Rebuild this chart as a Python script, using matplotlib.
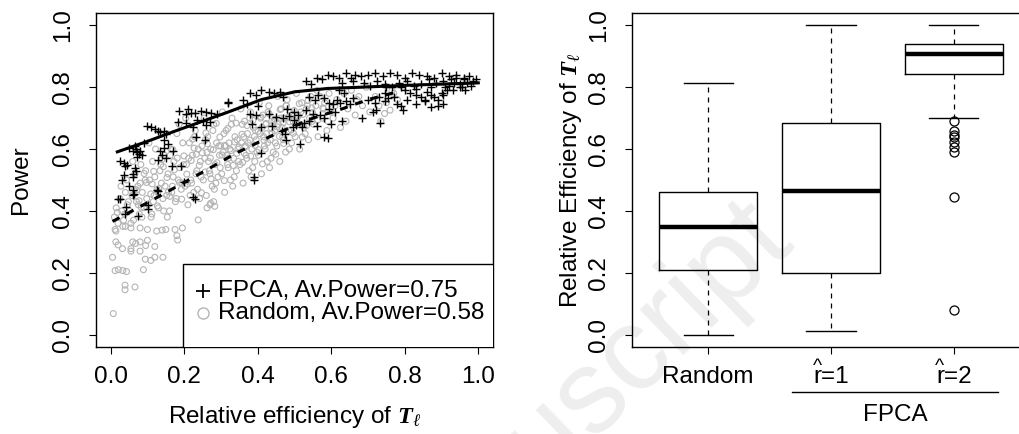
import matplotlib
matplotlib.use('Agg')
import matplotlib.pyplot as plt
from matplotlib.patches import Rectangle

plt.rcParams['font.family'] = ['Liberation Sans', 'DejaVu Sans']
plt.rcParams['mathtext.fontset'] = 'custom'
plt.rcParams['mathtext.rm'] = 'Liberation Serif'
plt.rcParams['mathtext.it'] = 'Liberation Serif:italic'
plt.rcParams['mathtext.bf'] = 'Liberation Serif:bold:italic'

# ---- left panel: power vs relative efficiency
fpca_eff = [
    0.020, 0.024, 0.063, 0.042, 0.040, 0.075, 0.102, 0.102, 0.130, 0.229, 0.060, 0.060, 0.125, 0.224, 0.200,
    0.025, 0.035, 0.045, 0.040, 0.065, 0.068, 0.060, 0.062, 0.035, 0.166, 0.190,
    0.065, 0.068, 0.062, 0.072, 0.080, 0.078, 0.085, 0.072, 0.090, 0.050,
    0.146, 0.155, 0.146, 0.170, 0.135, 0.140, 0.130, 0.150,
    0.098, 0.110, 0.120, 0.128, 0.135, 0.145, 0.150,
    0.183, 0.204, 0.224, 0.260, 0.233, 0.256, 0.235, 0.250, 0.270,
    0.185, 0.210, 0.204, 0.218, 0.228, 0.245, 0.258, 0.272, 0.290, 0.319, 0.030, 0.050,
    0.360, 0.380, 0.395, 0.410, 0.430, 0.445, 0.460, 0.470, 0.370, 0.400, 0.320,
    0.530, 0.545, 0.560, 0.575, 0.590, 0.605, 0.620, 0.630, 0.640, 0.655, 0.665, 0.660,
    0.540, 0.555, 0.565, 0.580, 0.595, 0.605, 0.615, 0.625, 0.640, 0.650, 0.660, 0.635, 0.620,
    0.480, 0.500, 0.510, 0.530, 0.550, 0.570, 0.580, 0.595, 0.610,
    0.380, 0.395, 0.430, 0.450, 0.470, 0.485, 0.500,
    0.385, 0.410, 0.440, 0.465, 0.475, 0.495, 0.505, 0.520, 0.525, 0.540, 0.560, 0.600, 0.630,
    0.580, 0.592, 0.410, 0.390, 0.390, 0.514, 0.478,
    0.680, 0.700, 0.720, 0.740, 0.760, 0.780, 0.800, 0.820, 0.840, 0.860, 0.880, 0.900, 0.920, 0.940, 0.960, 0.975, 0.995,
    0.690, 0.705, 0.725, 0.745, 0.765, 0.785, 0.805, 0.825, 0.845, 0.865, 0.885, 0.905, 0.920, 0.935,
    0.950, 0.960, 0.970, 0.980, 0.985, 0.940, 0.910, 0.870, 0.830, 0.790, 0.750, 0.955, 0.965, 0.925,
    0.800, 0.815, 0.830, 0.845, 0.855, 0.870, 0.880, 0.890, 0.900, 0.915, 0.930, 0.950, 0.860, 0.905,
    0.790, 0.795, 0.830, 0.870, 0.890, 0.855, 0.905,
    0.700, 0.720, 0.745, 0.755, 0.770, 0.780, 0.805, 0.745, 0.730,
    0.714, 0.723, 0.732, 0.683,
]
fpca_power = [
    0.440, 0.438, 0.455, 0.414, 0.390, 0.384, 0.420, 0.405, 0.465, 0.438, 0.468, 0.452, 0.468, 0.446, 0.495,
    0.560, 0.555, 0.550, 0.545, 0.540, 0.530, 0.520, 0.510, 0.515, 0.545, 0.545,
    0.610, 0.600, 0.595, 0.590, 0.595, 0.585, 0.580, 0.575, 0.620, 0.605,
    0.630, 0.615, 0.605, 0.595, 0.595, 0.580, 0.565, 0.570,
    0.675, 0.670, 0.665, 0.660, 0.655, 0.660, 0.650,
    0.688, 0.685, 0.672, 0.677, 0.640, 0.629, 0.694, 0.690, 0.688,
    0.723, 0.731, 0.715, 0.718, 0.716, 0.722, 0.720, 0.716, 0.715, 0.753, 0.500, 0.480,
    0.760, 0.780, 0.775, 0.790, 0.785, 0.780, 0.785, 0.770, 0.745, 0.740, 0.750,
    0.820, 0.810, 0.830, 0.825, 0.840, 0.835, 0.830, 0.815, 0.845, 0.830, 0.840, 0.820,
    0.770, 0.760, 0.775, 0.765, 0.750, 0.745, 0.760, 0.750, 0.755, 0.745, 0.765, 0.780, 0.790,
    0.730, 0.720, 0.710, 0.725, 0.715, 0.710, 0.700, 0.730, 0.720,
    0.715, 0.710, 0.712, 0.705, 0.700, 0.708, 0.695,
    0.680, 0.670, 0.675, 0.660, 0.650, 0.672, 0.678, 0.670, 0.685, 0.690, 0.675, 0.680, 0.690,
    0.640, 0.636, 0.586, 0.510, 0.500, 0.618, 0.629,
    0.835, 0.840, 0.845, 0.835, 0.845, 0.840, 0.830, 0.845, 0.840, 0.835, 0.830, 0.845, 0.835, 0.840, 0.830, 0.835, 0.825,
    0.815, 0.805, 0.820, 0.810, 0.800, 0.815, 0.820, 0.805, 0.810, 0.825, 0.815, 0.820, 0.805, 0.815,
    0.810, 0.825, 0.815, 0.805, 0.820, 0.830, 0.800, 0.800, 0.795, 0.800, 0.800, 0.800, 0.790, 0.825,
    0.790, 0.780, 0.775, 0.770, 0.760, 0.775, 0.770, 0.760, 0.780, 0.790, 0.790, 0.800, 0.785, 0.775,
    0.740, 0.725, 0.745, 0.735, 0.740, 0.755, 0.745,
    0.760, 0.750, 0.755, 0.765, 0.770, 0.745, 0.760, 0.780, 0.770,
    0.720, 0.726, 0.683, 0.700,
]

rand_eff = [
    0.007, 0.039, 0.039, 0.066, 0.012, 0.021, 0.033, 0.043, 0.089, 0.005, 0.032, 0.055, 0.055, 0.080, 0.094,
    0.109, 0.120, 0.142, 0.014, 0.020, 0.060, 0.068, 0.080, 0.100, 0.095, 0.120, 0.014, 0.040, 0.055, 0.080,
    0.100, 0.125, 0.140, 0.150, 0.175, 0.195, 0.180, 0.182, 0.238, 0.270, 0.262, 0.272, 0.283, 0.280,
    0.010, 0.015, 0.020, 0.025, 0.030, 0.035, 0.040, 0.045, 0.012, 0.028, 0.038, 0.048, 0.018, 0.033, 0.043,
    0.052, 0.058, 0.062, 0.066, 0.070, 0.074, 0.078, 0.082, 0.086, 0.090, 0.094, 0.098, 0.055, 0.065, 0.075,
    0.085, 0.095, 0.060, 0.080,
    0.102, 0.106, 0.110, 0.114, 0.118, 0.122, 0.126, 0.130, 0.134, 0.138, 0.142, 0.146, 0.104, 0.112, 0.120,
    0.128, 0.136, 0.144, 0.148, 0.116,
    0.152, 0.156, 0.160, 0.164, 0.168, 0.172, 0.176, 0.180, 0.184, 0.188, 0.192, 0.196, 0.154, 0.162, 0.170,
    0.178, 0.186, 0.194, 0.198, 0.166,
    0.202, 0.206, 0.210, 0.214, 0.218, 0.222, 0.226, 0.230, 0.234, 0.238, 0.242, 0.246, 0.204, 0.212, 0.220,
    0.228, 0.236, 0.244, 0.248, 0.216, 0.232,
    0.252, 0.256, 0.260, 0.264, 0.268, 0.272, 0.276, 0.280, 0.284, 0.288, 0.292, 0.296, 0.254, 0.262, 0.270,
    0.278, 0.286, 0.294, 0.298, 0.266, 0.282, 0.258,
    0.302, 0.306, 0.310, 0.314, 0.318, 0.322, 0.326, 0.330, 0.334, 0.338, 0.342, 0.346, 0.304, 0.312, 0.320,
    0.328, 0.336, 0.344, 0.348, 0.316, 0.332, 0.308, 0.324,
    0.352, 0.356, 0.360, 0.364, 0.368, 0.372, 0.376, 0.380, 0.384, 0.388, 0.392, 0.396, 0.354, 0.362, 0.370,
    0.378, 0.386, 0.394, 0.398, 0.366, 0.382, 0.358, 0.374,
    0.402, 0.406, 0.410, 0.414, 0.418, 0.422, 0.426, 0.430, 0.434, 0.438, 0.442, 0.446, 0.404, 0.412, 0.420,
    0.428, 0.436, 0.444, 0.448, 0.416, 0.432, 0.408, 0.424,
    0.452, 0.456, 0.460, 0.464, 0.468, 0.472, 0.476, 0.480, 0.484, 0.488, 0.492, 0.496, 0.454, 0.462, 0.470,
    0.478, 0.486, 0.494, 0.466,
    0.502, 0.508, 0.514, 0.520, 0.526, 0.532, 0.538, 0.544, 0.548, 0.505, 0.517, 0.529, 0.541, 0.511, 0.535,
    0.552, 0.558, 0.564, 0.570, 0.576, 0.582, 0.588, 0.594, 0.598, 0.561, 0.579, 0.591,
    0.605, 0.615, 0.625, 0.635, 0.645, 0.655, 0.665, 0.675, 0.685, 0.695, 0.610, 0.640, 0.670,
    0.705, 0.720, 0.735, 0.750, 0.765, 0.780, 0.795, 0.770, 0.760, 0.745, 0.730,
    0.071, 0.083, 0.097, 0.109, 0.117, 0.131, 0.139, 0.153, 0.161, 0.173, 0.187, 0.199, 0.207, 0.219, 0.227,
    0.241, 0.249, 0.257, 0.263, 0.271, 0.279, 0.289, 0.297, 0.303, 0.311, 0.319, 0.327, 0.337, 0.341, 0.349,
    0.357, 0.363, 0.371, 0.379, 0.387, 0.393, 0.401, 0.409, 0.417, 0.423, 0.431, 0.439, 0.447, 0.453, 0.461,
    0.469, 0.477, 0.483, 0.491, 0.499, 0.507, 0.513, 0.523, 0.537, 0.547,
    0.077, 0.091, 0.113, 0.127, 0.143, 0.157, 0.169, 0.181, 0.193, 0.209, 0.223, 0.233, 0.247, 0.259, 0.273,
    0.287, 0.299, 0.309, 0.321, 0.333, 0.343, 0.359, 0.367, 0.381, 0.391, 0.403, 0.413, 0.427, 0.437, 0.449,
    0.459, 0.471, 0.487, 0.497, 0.509, 0.521, 0.533, 0.549, 0.563, 0.577,
]
rand_power = [
    0.068, 0.160, 0.145, 0.154, 0.207, 0.210, 0.207, 0.204, 0.210, 0.250, 0.278, 0.278, 0.270, 0.270, 0.244,
    0.240, 0.250, 0.250, 0.300, 0.290, 0.300, 0.295, 0.300, 0.305, 0.288, 0.285, 0.335, 0.350, 0.345, 0.345,
    0.340, 0.335, 0.338, 0.340, 0.340, 0.345, 0.320, 0.306, 0.371, 0.420, 0.410, 0.425, 0.415, 0.430,
    0.380, 0.410, 0.360, 0.440, 0.400, 0.370, 0.460, 0.420, 0.340, 0.480, 0.390, 0.430, 0.395, 0.350, 0.500,
    0.400, 0.450, 0.370, 0.520, 0.430, 0.480, 0.390, 0.550, 0.460, 0.410, 0.500, 0.440, 0.360, 0.470, 0.420,
    0.380, 0.530, 0.560, 0.490,
    0.420, 0.500, 0.380, 0.560, 0.450, 0.600, 0.470, 0.410, 0.530, 0.490, 0.440, 0.580, 0.620, 0.390, 0.510,
    0.460, 0.550, 0.400, 0.480, 0.430,
    0.450, 0.520, 0.400, 0.600, 0.480, 0.560, 0.430, 0.650, 0.500, 0.540, 0.470, 0.620, 0.380, 0.580, 0.510,
    0.440, 0.680, 0.490, 0.550, 0.460,
    0.480, 0.550, 0.420, 0.620, 0.500, 0.580, 0.460, 0.660, 0.530, 0.600, 0.440, 0.510, 0.700, 0.570, 0.490,
    0.640, 0.470, 0.560, 0.610, 0.450, 0.520,
    0.500, 0.570, 0.450, 0.640, 0.530, 0.600, 0.480, 0.680, 0.550, 0.620, 0.510, 0.580, 0.700, 0.590, 0.520,
    0.660, 0.490, 0.610, 0.540, 0.560, 0.470, 0.630,
    0.520, 0.590, 0.460, 0.660, 0.550, 0.620, 0.500, 0.700, 0.570, 0.640, 0.530, 0.600, 0.720, 0.610, 0.540,
    0.680, 0.510, 0.630, 0.560, 0.580, 0.480, 0.650, 0.600,
    0.550, 0.620, 0.490, 0.690, 0.580, 0.650, 0.530, 0.720, 0.600, 0.670, 0.560, 0.630, 0.730, 0.640, 0.570,
    0.700, 0.540, 0.660, 0.590, 0.610, 0.510, 0.680, 0.620,
    0.580, 0.650, 0.520, 0.710, 0.610, 0.680, 0.560, 0.740, 0.630, 0.690, 0.590, 0.660, 0.750, 0.670, 0.600,
    0.720, 0.570, 0.690, 0.620, 0.640, 0.540, 0.700, 0.650,
    0.610, 0.680, 0.560, 0.730, 0.640, 0.700, 0.590, 0.760, 0.660, 0.720, 0.620, 0.690, 0.770, 0.700, 0.630,
    0.740, 0.600, 0.710, 0.670,
    0.640, 0.710, 0.600, 0.750, 0.670, 0.730, 0.630, 0.770, 0.690, 0.780, 0.720, 0.650, 0.700, 0.680, 0.740,
    0.680, 0.740, 0.640, 0.770, 0.700, 0.750, 0.660, 0.780, 0.720, 0.790, 0.730, 0.690,
    0.700, 0.760, 0.670, 0.780, 0.730, 0.790, 0.710, 0.770, 0.740, 0.800, 0.740, 0.690, 0.760,
    0.720, 0.770, 0.690, 0.750, 0.790, 0.760, 0.800, 0.780, 0.726, 0.715, 0.740,
    0.468, 0.412, 0.492, 0.455, 0.528, 0.472, 0.566, 0.508, 0.447, 0.533, 0.492, 0.578, 0.519, 0.563, 0.603,
    0.547, 0.588, 0.526, 0.617, 0.571, 0.598, 0.556, 0.639, 0.581, 0.612, 0.667, 0.595, 0.623, 0.684, 0.607,
    0.648, 0.587, 0.676, 0.629, 0.693, 0.612, 0.657, 0.704, 0.628, 0.683, 0.714, 0.651, 0.697, 0.672, 0.728,
    0.684, 0.741, 0.703, 0.662, 0.725, 0.688, 0.747, 0.712, 0.757, 0.733,
    0.433, 0.521, 0.487, 0.416, 0.543, 0.462, 0.598, 0.571, 0.438, 0.487, 0.632, 0.583, 0.459, 0.652, 0.504,
    0.683, 0.611, 0.498, 0.571, 0.547, 0.586, 0.557, 0.608, 0.577, 0.641, 0.598, 0.552, 0.621, 0.667, 0.583,
    0.641, 0.618, 0.688, 0.651, 0.704, 0.639, 0.676, 0.718, 0.694, 0.733,
]

# smoothed trends
fpca_fit_x = [0.018, 0.10, 0.17, 0.25, 0.32, 0.41, 0.50, 0.59, 0.68, 0.80, 0.90, 1.00]
fpca_fit_y = [0.591, 0.625, 0.656, 0.690, 0.720, 0.760, 0.785, 0.796, 0.800, 0.806, 0.810, 0.814]
rand_fit_x = [0.005, 0.13, 0.26, 0.34, 0.45, 0.55, 0.62, 0.70, 0.78]
rand_fit_y = [0.366, 0.446, 0.532, 0.586, 0.650, 0.700, 0.726, 0.760, 0.785]

legend_labels = ['FPCA, Av.Power=0.75', 'Random, Av.Power=0.58']

# ---- right panel: box plot summaries
box_labels = ['Random', 'r=1', 'r=2']
whisker_low = [0.000, 0.013, 0.702]
box_q1 = [0.210, 0.200, 0.844]
box_median = [0.347, 0.463, 0.909]
box_q3 = [0.460, 0.683, 0.940]
whisker_high = [0.815, 1.000, 1.000]
r2_outliers = [0.692, 0.660, 0.645, 0.638, 0.622, 0.606, 0.590, 0.444, 0.081]

gray = '#b4b4b4'
fs = 17.5
yticks = [0, 0.2, 0.4, 0.6, 0.8, 1.0]
ytick_labels = ['0.0', '0.2', '0.4', '0.6', '0.8', '1.0']

fig = plt.figure(figsize=(10.2, 4.34), dpi=100)
fig.text(565 / 1020, 1 - 418 / 434, 'Manuscript', rotation=44, fontsize=85,
         color='#eeeeee', ha='center', va='center', zorder=-1)

ax1 = fig.add_axes([96 / 1020, 1 - 347 / 434, 397 / 1020, 334 / 434])
ax1.set_facecolor('none')
ax1.scatter(rand_eff, rand_power, s=18, facecolors='none', edgecolors=gray, linewidths=0.8, zorder=2)
ax1.scatter(fpca_eff, fpca_power, s=26, marker='+', c='black', linewidths=1.0, zorder=3)
ax1.plot(fpca_fit_x, fpca_fit_y, color='black', lw=2.2, zorder=4)
ax1.plot(rand_fit_x, rand_fit_y, color='black', lw=2.2, linestyle=(0, (2.6, 2.6)), zorder=4)
ax1.set_xlim(-0.04, 1.04)
ax1.set_ylim(-0.04, 1.04)
ax1.set_xticks(yticks)
ax1.set_xticklabels(ytick_labels)
ax1.set_yticks(yticks)
ax1.set_yticklabels(ytick_labels, rotation=90, va='center')
ax1.set_xlabel(r'Relative efficiency of $\mathbf{T}_\ell$', fontsize=fs, labelpad=11)
ax1.set_ylabel('Power', fontsize=fs, labelpad=14)

# legend box like R
ax1.add_patch(Rectangle((0.198, -0.2), 1.0, 0.429, facecolor='white', edgecolor='black', lw=1, zorder=5))
ax1.plot([0.252], [0.14], marker='+', color='black', ms=10, mew=1.3, zorder=6)
ax1.plot([0.252], [0.07], marker='o', mfc='none', mec=gray, ms=8, mew=1.0, zorder=6)
ax1.text(0.293, 0.14, legend_labels[0], fontsize=fs, va='center', zorder=6)
ax1.text(0.293, 0.07, legend_labels[1], fontsize=fs, va='center', zorder=6)

ax2 = fig.add_axes([632 / 1020, 1 - 347 / 434, 398 / 1020, 334 / 434])
ax2.set_facecolor('none')
stats = []
for i in range(3):
    stats.append(dict(whislo=whisker_low[i], q1=box_q1[i], med=box_median[i], q3=box_q3[i],
                      whishi=whisker_high[i], fliers=r2_outliers if i == 2 else []))
ax2.bxp(stats, positions=[1, 2, 3], widths=0.8, capwidths=0.4,
        boxprops=dict(color='black', lw=1),
        medianprops=dict(color='black', lw=3.2, solid_capstyle='butt'),
        whiskerprops=dict(color='black', lw=0.9, linestyle=(0, (4, 4))),
        capprops=dict(color='black', lw=1),
        flierprops=dict(marker='o', mfc='none', mec='black', ms=6.5, mew=0.9))
ax2.set_xlim(0.38, 3.62)
ax2.set_ylim(-0.04, 1.04)
ax2.set_xticks([1, 2, 3])
ax2.set_xticklabels(box_labels)
ax2.set_yticks(yticks)
ax2.set_yticklabels(ytick_labels, rotation=90, va='center')
ax2.set_ylabel(r'Relative Efficiency of $\mathbf{T}_\ell$', fontsize=fs, labelpad=3)
tr = ax2.get_xaxis_transform()
for p in [2, 3]:
    ax2.annotate('^', xy=(p, 0), xycoords=tr, xytext=(-10, -17), textcoords='offset points',
                 fontsize=14, ha='center', va='baseline', annotation_clip=False)
ax2.plot([1.683, 3.358], [-0.135, -0.135], color='black', lw=1, transform=tr, clip_on=False)
ax2.text(2.52, -0.205, 'FPCA', fontsize=fs, ha='center', va='center', transform=tr)

for ax in (ax1, ax2):
    ax.tick_params(direction='out', length=5, width=0.8, labelsize=fs)
    ax.tick_params(axis='x', pad=9)
    ax.tick_params(axis='y', pad=11)
    for s in ax.spines.values():
        s.set_linewidth(1)

fig.savefig('out.png', dpi=100, facecolor='white')
